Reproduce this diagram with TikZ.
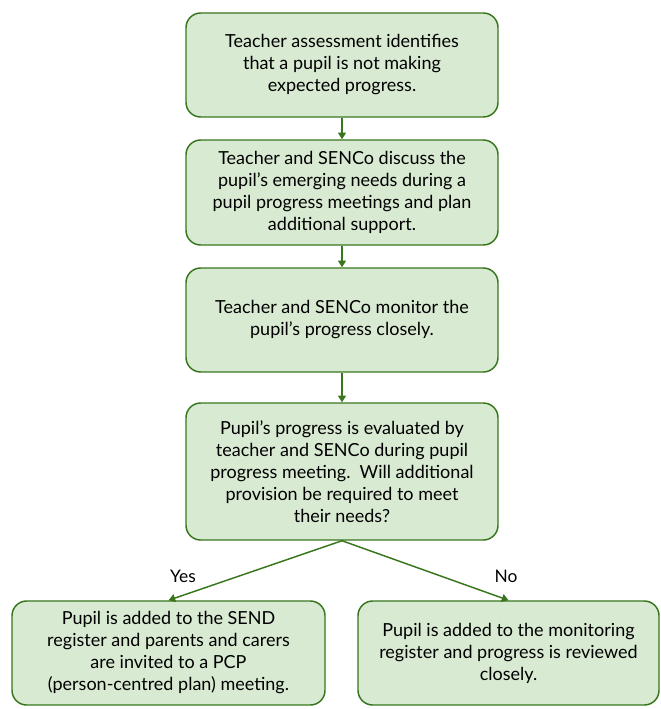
\documentclass[tikz,border=0pt]{standalone}
\usepackage{fontspec}
\setmainfont{Lato}
\usetikzlibrary{arrows.meta}
\definecolor{boxfill}{HTML}{D9EAD3}
\definecolor{boxline}{HTML}{38761D}
\begin{document}
\begin{tikzpicture}[x=0.75pt,y=-0.75pt,
    step box/.style={draw=boxline,fill=boxfill,line width=1.1pt,rounded corners=11pt,
        align=center,inner sep=0pt,font=\fontsize{13.5}{16.5}\selectfont},
    flow/.style={draw=boxline,line width=1.1pt,-{Triangle[width=6pt,length=5pt]}},
    answer/.style={font=\fontsize{13}{15}\selectfont}]
                \useasboundingbox (0,0) rectangle (660,709);
                \node[step box,minimum width=312*0.75pt,minimum height=104*0.75pt] (assess) at (342,65)
                    {Teacher assessment identifies\\that a pupil is not making\\expected progress.};
                \node[step box,minimum width=312*0.75pt,minimum height=105*0.75pt] (discuss) at (342,192.5)
                    {Teacher and SENCo discuss the\\pupil's emerging needs during a\\pupil progress meetings and plan\\additional support.};
                \node[step box,minimum width=312*0.75pt,minimum height=104*0.75pt] (monitor) at (342,320)
                    {Teacher and SENCo monitor the\\pupil's progress closely.};
                \node[step box,minimum width=312*0.75pt,minimum height=137*0.75pt] (evaluate) at (342,471.5)
                    {Pupil's progress is evaluated by\\teacher and SENCo during pupil\\progress meeting.\ \ Will additional\\provision be required to meet\\their needs?};
                \node[step box,minimum width=313*0.75pt,minimum height=104*0.75pt] (sendreg) at (168.5,653)
                    {Pupil is added to the SEND\\register and parents and carers\\are invited to a PCP\\(person-centred plan) meeting.};
                \node[step box,minimum width=301*0.75pt,minimum height=104*0.75pt] (monreg) at (508.5,653)
                    {Pupil is added to the monitoring\\register and progress is reviewed\\closely.};
                \draw[flow] (assess) -- (discuss);
                \draw[flow] (discuss) -- (monitor);
                \draw[flow] (monitor) -- (evaluate);
                \draw[flow] (evaluate.south) -- (sendreg.north);
                \draw[flow] (evaluate.south) -- (monreg.north);
                \node[answer] (yes) at (183,576) {Yes};
                \node[answer] (no) at (506,576) {No};
            \end{tikzpicture}
\end{document}
